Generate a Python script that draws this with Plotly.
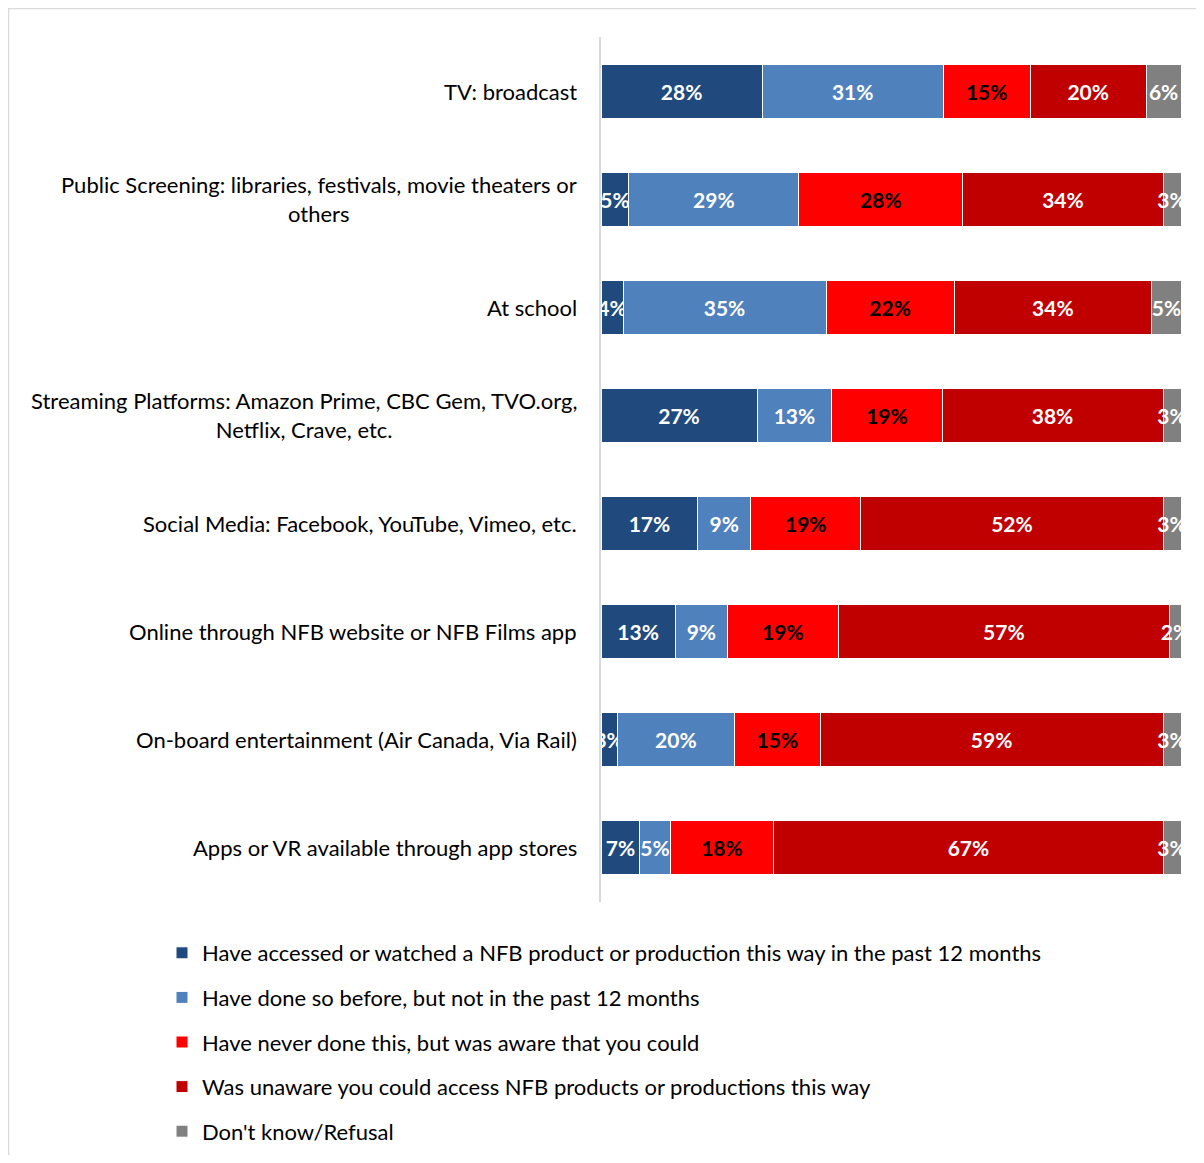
import plotly.graph_objects as go

categories = [
    "TV: broadcast",
    "Public Screening: libraries, festivals, movie theaters or<br>others",
    "At school",
    "Streaming Platforms: Amazon Prime, CBC Gem, TVO.org,<br>Netflix, Crave, etc.",
    "Social Media: Facebook, YouTube, Vimeo, etc.",
    "Online through NFB website or NFB Films app",
    "On-board entertainment (Air Canada, Via Rail)",
    "Apps or VR available through app stores",
]

series_names = [
    "Have accessed or watched a NFB product or production this way in the past 12 months",
    "Have done so before, but not in the past 12 months",
    "Have never done this, but was aware that you could",
    "Was unaware you could access NFB products or productions this way",
    "Don't know/Refusal",
]

accessed_12m = [27.8, 4.8, 3.8, 26.9, 16.7, 12.8, 2.8, 6.7]
done_before = [31.2, 29.3, 35.0, 12.9, 9.1, 9.0, 20.2, 5.2]
never_aware = [15.0, 28.3, 22.1, 19.0, 19.0, 19.1, 14.8, 17.9]
unaware = [20.0, 34.5, 34.0, 38.1, 52.1, 57.1, 59.1, 67.1]
dont_know = [6.0, 3.1, 5.2, 3.1, 3.1, 2.1, 3.1, 3.1]

labels_accessed = ["28%", "5%", "4%", "27%", "17%", "13%", "3%", "7%"]
labels_before = ["31%", "29%", "35%", "13%", "9%", "9%", "20%", "5%"]
labels_never = ["15%", "28%", "22%", "19%", "19%", "19%", "15%", "18%"]
labels_unaware = ["20%", "34%", "34%", "38%", "52%", "57%", "59%", "67%"]
labels_dk = ["6%", "3%", "5%", "3%", "3%", "2%", "3%", "3%"]

colors = ["#204A7E", "#4F81BD", "#FF0000", "#C00000", "#808080"]
text_colors = ["white", "white", "black", "white", "white"]

values = [accessed_12m, done_before, never_aware, unaware, dont_know]
labels = [labels_accessed, labels_before, labels_never, labels_unaware, labels_dk]

FONT = "Lato"

# figure geometry (figure pixels)
W, H = 1188, 1147
ML, MR, MT, MB = 593, 15, 29, 253
PW = W - ML - MR
PH = H - MT - MB

fig = go.Figure()
for i in range(5):
    fig.add_trace(go.Bar(
        y=categories,
        x=values[i],
        name=series_names[i],
        orientation="h",
        marker=dict(color=colors[i], line=dict(color="white", width=1)),
        text=labels[i],
        textposition="inside",
        insidetextanchor="middle",
        textangle=0,
        textfont=dict(family=FONT, size=21, color=text_colors[i], weight="bold"),
        cliponaxis=True,
        width=0.5,
        legendgroup=str(i),
        hoverinfo="x+name",
    ))

annotations = []
for c in categories:
    annotations.append(dict(
        x=0, xref="paper", xshift=-22, xanchor="right",
        y=c, yref="y", yanchor="middle",
        text=c, showarrow=False, align="center",
        font=dict(family=FONT, size=22, color="black"),
    ))


def px_x(p):
    return (p - ML) / PW


def px_y(p):
    return 1 - (p - MT) / PH


shapes = [
    dict(type="line", xref="paper", yref="paper",
         x0=px_x(0), x1=px_x(W), y0=px_y(0.5), y1=px_y(0.5),
         line=dict(color="#D9D9D9", width=1.5)),
    dict(type="line", xref="paper", yref="paper",
         x0=px_x(0.5), x1=px_x(0.5), y0=px_y(0), y1=px_y(H),
         line=dict(color="#D9D9D9", width=1.5)),
]

fig.update_layout(
    width=W, height=H,
    margin=dict(l=ML, r=MR, t=MT, b=MB, pad=0, autoexpand=False),
    barmode="stack",
    bargap=0.5,
    plot_bgcolor="white",
    paper_bgcolor="white",
    font=dict(family=FONT, size=22, color="black"),
    uniformtext=dict(minsize=21, mode="show"),
    xaxis=dict(range=[0, 100], visible=False, fixedrange=True),
    yaxis=dict(
        autorange="reversed",
        showticklabels=False,
        showline=True, linecolor="#D9D9D9", linewidth=2,
        showgrid=False, zeroline=False, ticks="",
    ),
    legend=dict(
        x=px_x(154), xanchor="left",
        y=px_y(924), yanchor="top",
        orientation="v",
        traceorder="grouped",
        tracegroupgap=13,
        font=dict(family=FONT, size=22, color="black"),
        bgcolor="rgba(0,0,0,0)",
    ),
    annotations=annotations,
    shapes=shapes,
    showlegend=True,
)

fig.write_html("out.html")
